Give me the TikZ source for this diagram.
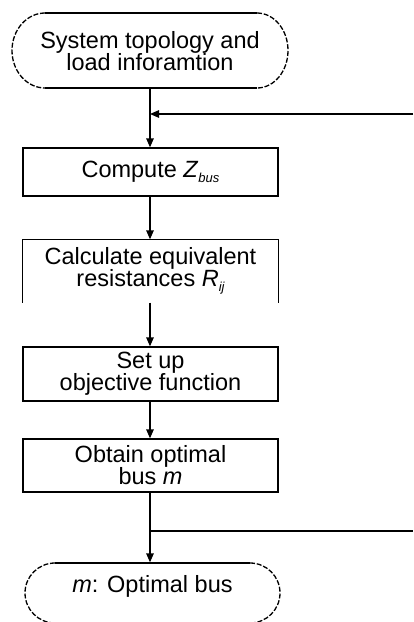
\documentclass[tikz,border=0pt]{standalone}
\usepackage{fontspec}
\setmainfont{Liberation Sans}
\usetikzlibrary{arrows.meta}
\newcommand{\subidx}[1]{\raisebox{-0.35ex}{\fontsize{13}{13}\selectfont\itshape #1}}
\begin{document}
\begin{tikzpicture}[x=1pt,y=-1pt,
  line width=1.3pt,
  label font/.style={font=\fontsize{23.5}{22}\selectfont},
  stepbox/.style={label font, draw, minimum width=255pt, inner sep=0pt, align=center},
  openbox/.style={label font, minimum width=255pt, inner sep=0pt, align=center},
  terminal/.style={label font, inner sep=0pt, align=center},
  flow/.style={-{Triangle[length=9pt,width=7.5pt]}},
  curved end/.style={dash pattern=on 5pt off 1.8pt}
]
\useasboundingbox (0,0) rectangle (413,622);
\clip (0,0) rectangle (413,622);

% start terminal
\node[terminal, minimum width=276pt, minimum height=75pt] (start) at (150,51)
  {System topology and\\load inforamtion};
\draw (45,13) -- (257,13) (45,88) -- (257,88);
\draw[curved end] (45,13) arc[start angle=-90, end angle=-270, x radius=33, y radius=37.5];
\draw[curved end] (257,13) arc[start angle=-90, end angle=90, x radius=31, y radius=37.5];

% process steps
\node[stepbox, minimum height=48pt] (zbus) at (150.5,172) {Compute \textit{Z}\subidx{bus}};
\node[openbox, minimum height=62pt] (req) at (150.5,271) {Calculate equivalent\\resistances \textit{R}\subidx{ij}};
\draw (req.south west) -- (req.north west) -- (req.north east) -- (req.south east);
\node[stepbox, minimum height=54pt] (obj) at (150.5,374) {Set up\\objective function};
\node[stepbox, minimum height=53pt] (opt) at (150.5,465.5) {Obtain optimal\\bus \textit{m}};

% end terminal
\node[terminal, minimum width=255pt, minimum height=46pt] (stop) at (152.5,586) {\textit{m}: Optimal bus};
\draw (55,563) -- (250,563) (55,623) -- (250,623);
\draw[curved end] (55,563) arc[start angle=-90, end angle=-270, x radius=30, y radius=30];
\draw[curved end] (250,563) arc[start angle=-90, end angle=90, x radius=30, y radius=30];

% main flow
\draw[flow] (start.south) -- (zbus.north -| start.south);
\draw[flow] (zbus.south -| start.south) -- (req.north -| start.south);
\draw[flow] (req.south -| start.south) -- (obj.north -| start.south);
\draw[flow] (obj.south -| start.south) -- (opt.north -| start.south);
\draw[flow] (opt.south -| start.south) -- (stop.north -| start.south);

% loop connectors at the right edge
\coordinate (loopin) at (413,114);
\coordinate (loopout) at (413,531);
\draw[flow] (loopin) -- (loopin -| start.south);
\draw (loopout -| start.south) -- (loopout);
\end{tikzpicture}
\end{document}
